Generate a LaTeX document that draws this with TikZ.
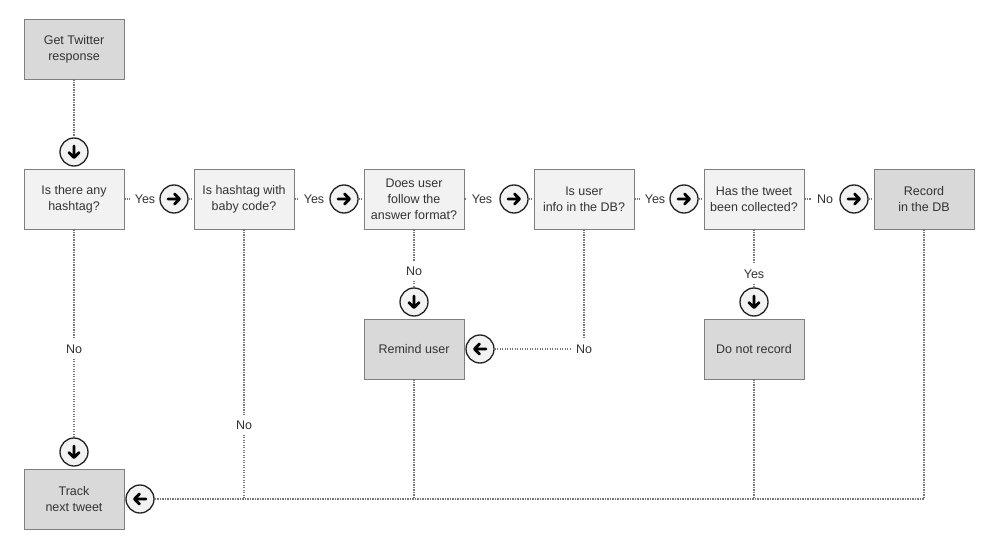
\documentclass[tikz,border=0pt]{standalone}
\usepackage{fontspec}
\setmainfont{Liberation Sans}
\definecolor{boxline}{HTML}{7F7F7F}
\definecolor{lightfill}{HTML}{F2F2F2}
\definecolor{darkfill}{HTML}{D9D9D9}
\definecolor{txt}{HTML}{333333}
\definecolor{conn}{HTML}{777777}
\definecolor{circline}{HTML}{222222}
\tikzset{
  base/.style={rectangle, draw=boxline, line width=0.9pt, minimum width=100pt, minimum height=60pt, inner sep=2pt, align=center, text=txt, font=\fontsize{12.5}{16}\selectfont},
  qbox/.style={base, fill=lightfill},
  abox/.style={base, fill=darkfill},
  lbl/.style={text=txt, font=\fontsize{12.5}{16}\selectfont, inner sep=5pt},
  circ/.style={circle, draw=circline, fill=lightfill, line width=1.3pt, minimum size=28pt, inner sep=0pt},
  conn/.style={draw=conn, line width=1.5pt, dash pattern=on 1.3pt off 1.2pt},
  arrowpic/.pic={\draw[line width=2.8pt, line cap=round, line join=round, black] (-6,0)--(5,0) (0.5,-5.2)--(5.5,0)--(0.5,5.2);}
}
\begin{document}
\begin{tikzpicture}[x=1pt,y=-1pt]
\useasboundingbox[fill=white] (0,0) rectangle (1000,548);
% boxes
\node[abox] (gtr) at (74,49) {Get Twitter\\response};
\node[qbox] (q1) at (74,199) {Is there any\\hashtag?};
\node[qbox] (q2) at (244,199) {Is hashtag with\\baby code?};
\node[qbox] (q3) at (414,199) {Does user\\follow the\\answer format?};
\node[qbox] (q4) at (584,199) {Is user\\info in the DB?};
\node[qbox] (q5) at (754,199) {Has the tweet\\been collected?};
\node[abox] (rec) at (924,199) {Record\\in the DB};
\node[abox] (rem) at (414,349) {Remind user};
\node[abox] (dnr) at (754,349) {Do not record};
\node[abox] (trk) at (74,499) {Track\\next tweet};
% labels
\node[lbl] (y1) at (145,199) {Yes};
\node[lbl] (y2) at (314,199) {Yes};
\node[lbl] (y3) at (482,199) {Yes};
\node[lbl] (y4) at (655,199) {Yes};
\node[lbl] (n5) at (825,199) {No};
\node[lbl] (n1) at (74,349) {No};
\node[lbl] (n2) at (244,425) {No};
\node[lbl] (n3) at (414,271) {No};
\node[lbl] (n4) at (584,349) {No};
\node[lbl] (y5) at (754,274) {Yes};
% junctions
\coordinate (j2) at (244,499);
\coordinate (j3) at (414,499);
\coordinate (j5) at (754,499);
\coordinate (j6) at (924,499);
% circles
\node[circ] (c0) at (74,152) {};
\node[circ] (c1) at (174,199) {};
\node[circ] (c2) at (344,199) {};
\node[circ] (c3) at (514,199) {};
\node[circ] (c4) at (684,199) {};
\node[circ] (c5) at (854,199) {};
\node[circ] (c6) at (414,302) {};
\node[circ] (c7) at (754,302) {};
\node[circ] (c8) at (74,452) {};
\node[circ] (c9) at (480,349) {};
\node[circ] (c10) at (140,499) {};
% connectors
\path[conn] (gtr) -- (c0);
\path[conn] (q1) -- (y1);
\path[conn] (c1) -- (q2);
\path[conn] (q2) -- (y2);
\path[conn] (c2) -- (q3);
\path[conn] (q3) -- (y3);
\path[conn] (c3) -- (q4);
\path[conn] (q4) -- (y4);
\path[conn] (c4) -- (q5);
\path[conn] (q5) -- (n5);
\path[conn] (c5) -- (rec);
\path[conn] (q1) -- (n1) -- (c8);
\path[conn] (q2) -- (n2) -- (j2);
\path[conn] (q3) -- (n3) -- (c6);
\path[conn] (q4) -- (n4) -- (c9);
\path[conn] (q5) -- (y5) -- (c7);
\path[conn] (rem) -- (j3);
\path[conn] (dnr) -- (j5);
\path[conn] (rec) -- (j6) -- (c10);
% arrows inside circles
\pic[rotate=-90] at (c0) {arrowpic};
\pic at (c1) {arrowpic};
\pic at (c2) {arrowpic};
\pic at (c3) {arrowpic};
\pic at (c4) {arrowpic};
\pic at (c5) {arrowpic};
\pic[rotate=-90] at (c6) {arrowpic};
\pic[rotate=-90] at (c7) {arrowpic};
\pic[rotate=-90] at (c8) {arrowpic};
\pic[rotate=180] at (c9) {arrowpic};
\pic[rotate=180] at (c10) {arrowpic};
\end{tikzpicture}
\end{document}
